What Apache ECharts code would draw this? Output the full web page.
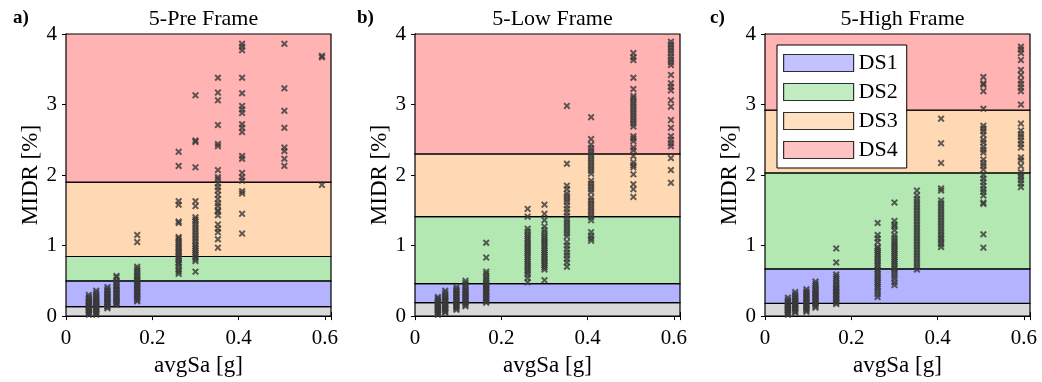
<!DOCTYPE html>
<html>
<head>
<meta charset="utf-8">
<script src="https://cdn.jsdelivr.net/npm/echarts@6/dist/echarts.min.js"></script>
<style>
  html, body { margin: 0; padding: 0; background: #fff; }
  #main { width: 1042px; height: 382px; }
</style>
</head>
<body>
<div id="main"></div>
<script>
// avgSa levels (x) shared by the three frames
var xLevels = [0.053, 0.070, 0.096, 0.117, 0.165, 0.261, 0.300, 0.352, 0.408, 0.506, 0.593]

// MIDR [%] per avgSa level
var preY = [
  [0.02,0.03,0.05,0.06,0.08,0.09,0.11,0.12,0.14,0.15,0.17,0.18,0.20,0.21,0.23,0.25,0.27,0.30],
  [0.02,0.04,0.05,0.07,0.09,0.10,0.12,0.14,0.15,0.17,0.19,0.20,0.22,0.24,0.26,0.28,0.30,0.33,0.36],
  [0.11,0.13,0.14,0.16,0.18,0.19,0.21,0.23,0.25,0.26,0.28,0.30,0.32,0.34,0.36,0.38,0.41],
  [0.16,0.18,0.19,0.21,0.23,0.25,0.27,0.28,0.30,0.32,0.34,0.36,0.38,0.40,0.42,0.44,0.47,0.50,0.55,0.57],
  [0.21,0.23,0.25,0.27,0.29,0.31,0.33,0.35,0.37,0.39,0.41,0.43,0.45,0.47,0.49,0.51,0.53,0.56,0.58,0.61,0.64,0.67,0.70,1.05,1.15],
  [0.60,0.63,0.66,0.70,0.74,0.76,0.79,0.82,0.84,0.87,0.90,0.92,0.95,0.98,1.01,1.04,1.07,1.10,1.12,1.32,1.34,1.58,1.63,2.13,2.33],
  [0.63,0.78,0.81,0.84,0.87,0.90,0.93,0.96,0.99,1.02,1.06,1.10,1.14,1.18,1.22,1.26,1.30,1.34,1.37,1.40,1.56,1.63,2.11,2.47,2.49,3.13],
  [0.97,1.09,1.19,1.24,1.30,1.43,1.48,1.50,1.56,1.60,1.66,1.72,1.78,1.83,1.88,1.94,1.97,2.07,2.41,2.44,2.71,3.06,3.17,3.38],
  [1.17,1.45,1.74,1.77,1.92,1.97,2.03,2.23,2.27,2.61,2.67,2.72,2.88,2.93,2.98,3.16,3.38,3.77,3.82,3.86],
  [2.13,2.23,2.34,2.39,2.67,2.91,3.23,3.86],
  [1.86,3.67,3.69]
]
var lowY = [
  [0.02,0.03,0.05,0.06,0.08,0.09,0.11,0.12,0.14,0.16,0.17,0.19,0.21,0.23,0.25,0.27],
  [0.05,0.06,0.08,0.10,0.11,0.13,0.15,0.16,0.18,0.20,0.22,0.24,0.26,0.28,0.30,0.33,0.36],
  [0.09,0.11,0.13,0.14,0.16,0.18,0.20,0.22,0.24,0.26,0.28,0.30,0.32,0.34,0.36,0.38,0.41],
  [0.14,0.16,0.18,0.20,0.22,0.24,0.26,0.28,0.30,0.32,0.34,0.36,0.38,0.41,0.44,0.47,0.50],
  [0.19,0.21,0.23,0.25,0.27,0.29,0.31,0.33,0.35,0.37,0.39,0.41,0.43,0.45,0.47,0.50,0.53,0.56,0.60,0.63,0.83,1.04],
  [0.48,0.54,0.59,0.62,0.65,0.68,0.71,0.74,0.77,0.80,0.83,0.86,0.89,0.92,0.95,0.98,1.01,1.04,1.07,1.10,1.13,1.16,1.20,1.24,1.41,1.52],
  [0.51,0.66,0.69,0.72,0.75,0.78,0.81,0.84,0.87,0.90,0.93,0.96,0.99,1.02,1.05,1.08,1.11,1.14,1.18,1.22,1.27,1.36,1.45,1.58],
  [0.70,0.76,0.81,0.86,0.90,0.95,1.00,1.05,1.13,1.17,1.21,1.25,1.29,1.33,1.37,1.42,1.47,1.52,1.57,1.62,1.66,1.70,1.74,1.80,1.85,2.16,2.98],
  [1.07,1.10,1.14,1.19,1.36,1.40,1.44,1.48,1.52,1.56,1.60,1.64,1.68,1.76,1.80,1.84,1.88,1.92,2.02,2.06,2.10,2.14,2.18,2.22,2.26,2.30,2.34,2.38,2.43,2.51,2.82],
  [1.69,1.80,1.87,2.01,2.11,2.14,2.18,2.27,2.35,2.39,2.48,2.52,2.55,2.69,2.73,2.77,2.81,2.85,2.89,2.93,2.97,3.01,3.05,3.09,3.12,3.22,3.38,3.63,3.67,3.73],
  [1.89,2.07,2.24,2.41,2.45,2.50,2.55,2.67,2.78,2.97,3.06,3.20,3.25,3.30,3.42,3.56,3.60,3.64,3.68,3.73,3.77,3.81,3.85,3.89]
]
var highY = [
  [0.02,0.03,0.05,0.06,0.08,0.09,0.11,0.12,0.14,0.15,0.17,0.19,0.21,0.23,0.26],
  [0.05,0.06,0.08,0.10,0.11,0.13,0.15,0.16,0.18,0.20,0.22,0.24,0.26,0.28,0.31,0.34],
  [0.06,0.08,0.10,0.11,0.13,0.15,0.17,0.19,0.21,0.23,0.25,0.27,0.29,0.31,0.33,0.35,0.38],
  [0.12,0.14,0.16,0.18,0.20,0.22,0.24,0.26,0.28,0.30,0.32,0.34,0.36,0.38,0.40,0.43,0.46,0.49],
  [0.17,0.19,0.21,0.23,0.25,0.27,0.29,0.31,0.33,0.35,0.37,0.39,0.41,0.44,0.47,0.50,0.53,0.56,0.59,0.76,0.96],
  [0.27,0.31,0.35,0.39,0.42,0.45,0.48,0.51,0.54,0.57,0.60,0.63,0.66,0.69,0.72,0.75,0.78,0.81,0.84,0.87,0.90,0.93,0.96,0.98,1.05,1.10,1.15,1.32],
  [0.44,0.48,0.53,0.57,0.61,0.65,0.68,0.71,0.74,0.77,0.80,0.83,0.86,0.89,0.92,0.95,0.98,1.01,1.04,1.07,1.11,1.15,1.22,1.27,1.30,1.35,1.61],
  [0.66,0.70,0.74,0.78,0.82,0.86,0.90,0.94,0.98,1.02,1.06,1.10,1.14,1.18,1.22,1.26,1.30,1.34,1.38,1.42,1.46,1.50,1.54,1.58,1.62,1.66,1.71,1.78],
  [0.98,1.02,1.05,1.09,1.12,1.16,1.20,1.24,1.28,1.32,1.36,1.40,1.44,1.48,1.52,1.56,1.60,1.64,1.78,1.81,2.17,2.45,2.80],
  [0.97,1.16,1.59,1.61,1.71,1.76,1.80,1.85,1.90,1.95,2.00,2.08,2.13,2.17,2.22,2.32,2.36,2.40,2.46,2.50,2.57,2.62,2.66,2.70,2.94,3.19,3.28,3.30,3.39],
  [1.83,1.88,1.93,1.97,2.00,2.04,2.13,2.21,2.25,2.39,2.44,2.49,2.54,2.58,2.63,2.73,3.00,3.19,3.24,3.29,3.34,3.42,3.49,3.63,3.73,3.78,3.82]
]

// damage state thresholds (DS1..DS4 lower bounds)
var preLimits = [0.135, 0.50, 0.845, 1.90]
var lowLimits = [0.19, 0.46, 1.41, 2.30]
var highLimits = [0.18, 0.67, 2.03, 2.92]

var titles = ['5-Pre Frame', '5-Low Frame', '5-High Frame']
var letters = ['a)', 'b)', 'c)']
var dsNames = ['DS1', 'DS2', 'DS3', 'DS4']
var bandColors = ['#d9d9d9', '#b3b3ff', '#b3e8b3', '#ffd9b3', '#ffb3b3']
var yTop = 4
var xMax = 0.614

var font = 'Liberation Serif'
var gridLeft = [66, 415, 765]
var gridW = 265
var markSymbol = 'path://M0,2L2,0L5,3L8,0L10,2L7,5L10,8L8,10L5,7L2,10L0,8L3,5Z'

function toPoints (yLists) {
  var pts = []
  yLists.forEach(function (ys, i) {
    ys.forEach(function (y) { pts.push([xLevels[i], y]) })
  })
  return pts
}

function bands (limits) {
  var edges = [0].concat(limits).concat([yTop])
  var out = []
  for (var i = 0; i < 5; i++) {
    out.push([{ yAxis: edges[i], itemStyle: { color: bandColors[i] } }, { yAxis: edges[i + 1] }])
  }
  return out
}

var panels = [preY, lowY, highY]
var limits = [preLimits, lowLimits, highLimits]

var option = {
  animation: false,
  backgroundColor: '#fff',
  textStyle: { fontFamily: font },
  title: [],
  grid: [],
  xAxis: [],
  yAxis: [],
  series: [],
  legend: {
    data: dsNames,
    orient: 'vertical',
    left: 777,
    top: 45,
    padding: [7, 9, 7, 6],
    itemGap: 7,
    itemWidth: 70,
    itemHeight: 17,
    icon: 'rect',
    backgroundColor: '#fff',
    borderColor: '#000',
    borderWidth: 1,
    borderRadius: 0,
    itemStyle: { borderColor: '#000', borderWidth: 1.2 },
    textStyle: { fontFamily: font, fontSize: 22, color: '#000', padding: [2, 0, 0, 0] },
    selectedMode: false
  }
}

panels.forEach(function (yLists, k) {
  option.title.push({
    text: titles[k], left: gridLeft[k] + gridW / 2, top: 3, textAlign: 'center',
    textStyle: { fontFamily: font, fontSize: 22, fontWeight: 'normal', color: '#000' }
  })
  option.title.push({
    text: letters[k], left: [8, 352, 705][k], top: 4,
    textStyle: { fontFamily: font, fontSize: 19, fontWeight: 'bold', color: '#000' }
  })
  option.grid.push({ left: gridLeft[k], top: 34, width: gridW, height: 284 })

  var lineStyle = { color: '#000', width: 1 }
  option.xAxis.push({
    type: 'value', gridIndex: k, min: 0, max: xMax, interval: 0.2,
    name: 'avgSa [g]', nameLocation: 'middle', nameGap: 31,
    nameTextStyle: { fontFamily: font, fontSize: 23, color: '#000' },
    axisLine: { lineStyle: lineStyle },
    axisTick: { inside: true, length: 4, lineStyle: lineStyle },
    splitLine: { show: false },
    axisLabel: {
      fontFamily: font, fontSize: 21, color: '#000', margin: 12,
      formatter: function (v) {
        if (Math.abs(v * 5 - Math.round(v * 5)) > 1e-6) return ''
        return v === 0 ? '0' : (+v.toFixed(1)).toString()
      }
    }
  })
  option.xAxis.push({
    type: 'value', gridIndex: k, position: 'top', min: 0, max: xMax, interval: 0.2,
    axisLine: { lineStyle: lineStyle },
    axisTick: { inside: true, length: 4, lineStyle: lineStyle },
    axisLabel: { show: false }, splitLine: { show: false }
  })
  option.yAxis.push({
    type: 'value', gridIndex: k, min: 0, max: yTop, interval: 1,
    name: 'MIDR [%]', nameLocation: 'middle', nameGap: 20,
    nameTextStyle: { fontFamily: font, fontSize: 23, color: '#000' },
    axisLine: { lineStyle: lineStyle },
    axisTick: { inside: true, length: 4, lineStyle: lineStyle },
    splitLine: { show: false },
    axisLabel: { fontFamily: font, fontSize: 21, color: '#000', margin: 9 }
  })
  option.yAxis.push({
    type: 'value', gridIndex: k, position: 'right', min: 0, max: yTop, interval: 1,
    axisLine: { lineStyle: lineStyle },
    axisTick: { inside: true, length: 4, lineStyle: lineStyle },
    axisLabel: { show: false }, splitLine: { show: false }
  })

  // damage state bands
  option.series.push({
    type: 'scatter', xAxisIndex: 2 * k, yAxisIndex: 2 * k, data: [], z: 1, silent: true,
    markArea: {
      silent: true,
      itemStyle: { borderColor: '#000', borderWidth: 1.2 },
      data: bands(limits[k])
    }
  })
  // MIDR points
  option.series.push({
    type: 'scatter', xAxisIndex: 2 * k, yAxisIndex: 2 * k, z: 3,
    symbol: markSymbol, symbolSize: 7,
    itemStyle: { color: '#383838' },
    data: toPoints(yLists)
  })
})

// legend entries
dsNames.forEach(function (name, i) {
  option.series.push({
    name: name, type: 'scatter', xAxisIndex: 4, yAxisIndex: 4, data: [],
    itemStyle: { color: bandColors[i + 1] }
  })
})

var myChart = echarts.init(document.getElementById('main'))
myChart.setOption(option)
</script>
</body>
</html>
